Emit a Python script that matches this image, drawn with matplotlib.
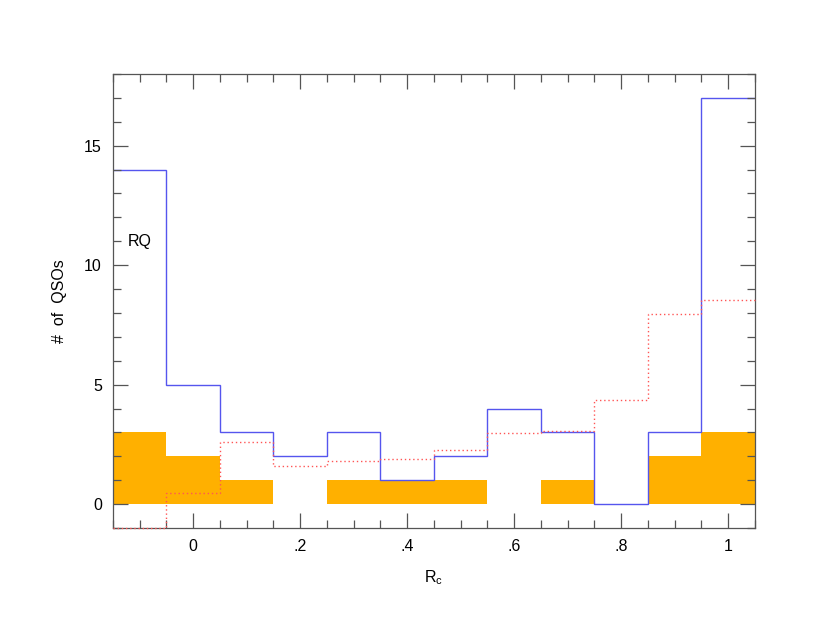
import numpy as np
import matplotlib.pyplot as plt
from matplotlib.ticker import MultipleLocator, FixedLocator

plt.rcParams['font.family'] = ['Liberation Sans', 'DejaVu Sans']

# bin edges of R_c
edges = np.arange(-0.15, 1.1, 0.1)

# all RQ QSOs (blue)
rq_all = [14, 5, 3, 2, 3, 1, 2, 4, 3, 0, 3, 17]
# subsample (orange, filled)
rq_sub = [3, 2, 1, 0, 1, 1, 1, 0, 1, 0, 2, 3]
# expected / model (red dotted)
rq_model = [-1, 0.46, 2.59, 1.61, 1.82, 1.9, 2.28, 2.98, 3.05, 4.34, 7.95, 8.53]

xticks = [0, 0.2, 0.4, 0.6, 0.8, 1.0]
xticklabels = ['0', '.2', '.4', '.6', '.8', '1']

fig = plt.figure(figsize=(8.3, 6.42), dpi=100)
ax = fig.add_axes([0.1361, 0.1776, 0.7735, 0.7072])

ax.stairs(rq_sub, edges, fill=True, color='#FFB000', baseline=0)
ax.stairs(rq_all, edges, baseline=None, color='#5555ee', lw=1.0)
ax.stairs(rq_model, edges, baseline=None, color='#ff5555', lw=1.0,
          ls=(0, (1, 2)), zorder=3, clip_on=False)

ax.text(-0.122, 11.0, 'RQ', fontsize=11.5, va='center', ha='left')

ax.set_xlim(-0.15, 1.05)
ax.set_ylim(-1, 18)
ax.xaxis.set_major_locator(FixedLocator(xticks))
ax.set_xticklabels(xticklabels)
ax.xaxis.set_minor_locator(MultipleLocator(0.05))
ax.yaxis.set_major_locator(MultipleLocator(5))
ax.yaxis.set_minor_locator(MultipleLocator(1))
ax.tick_params(which='both', direction='in', top=True, right=True,
               color='#555555', width=0.9, labelsize=11.5)
ax.tick_params(which='major', length=11, pad=8)
ax.tick_params(which='minor', length=5.5)
for s in ax.spines.values():
    s.set_color('#555555')
    s.set_linewidth(0.9)
    s.set_zorder(2.5)

ax.set_xlabel('R$_\\mathregular{c}$', fontsize=11.5, labelpad=10)
ax.set_ylabel('#  of  QSOs', fontsize=11.5, labelpad=12)

fig.savefig('out.png', dpi=100)
